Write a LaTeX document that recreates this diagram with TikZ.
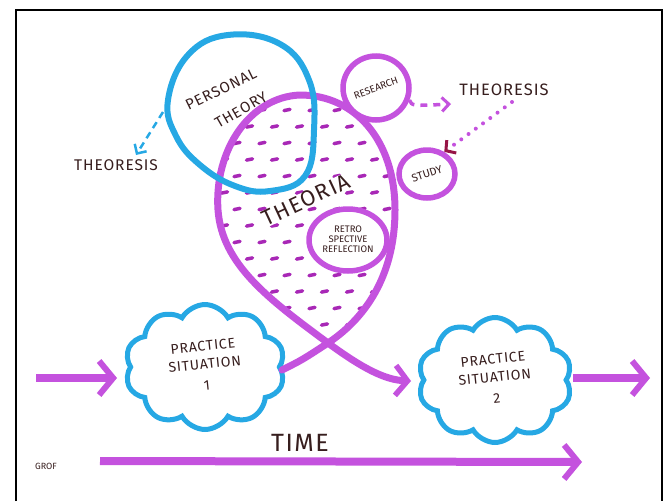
\documentclass[tikz,border=0pt]{standalone}
\usepackage{fontspec}
\setmainfont{Fira Sans}
\usetikzlibrary{arrows.meta,shapes.geometric,shapes.symbols}
\definecolor{mag}{RGB}{196,82,222}
\definecolor{dotc}{RGB}{168,40,182}
\definecolor{blu}{RGB}{38,168,228}
\definecolor{ink}{RGB}{55,30,30}
\definecolor{darkhead}{RGB}{150,20,70}
\newfontfamily\handfont[LetterSpace=6]{Fira Sans}
\newcommand\stacklines[1]{\begin{tabular}{@{}c@{}}#1\end{tabular}}
\begin{document}
\begin{tikzpicture}[x=1pt,y=-1pt,
  magline/.style={draw=mag,line width=7pt,line cap=round},
  blueline/.style={draw=blu,line width=6pt},
  lbl/.style={text=ink,inner sep=1pt},
  bigarrow/.style={draw=mag,line width=8pt,-{Straight Barb[length=14pt,width=34pt,line width=6pt]}},
  bubble/.style={ellipse,draw=mag,line width=5.5pt,fill=white,inner sep=0pt,text=ink},
  cloudbox/.style={cloud,cloud puffs=10,cloud puff arc=120,draw=blu,line width=5pt,fill=white,text=ink,font=\fontsize{14}{17}\selectfont,inner sep=0pt}
]
\useasboundingbox (0,0) rectangle (668,501);
% frame
\draw[black,line width=1.5pt] (16,501) -- (16,10) -- (662,10) -- (662,501);

% dots inside theoria
\begin{scope}
\clip (328,343) .. controls (270,300) and (222,265) .. (218,210) .. controls (214,150) and (250,97) .. (300,95) .. controls (355,95) and (395,140) .. (395,210) .. controls (395,270) and (370,315) .. (328,343);
\foreach \r in {0,...,14} {
  \foreach \c in {0,...,8} {
    \pgfmathsetmacro\xx{212+25*\c+12.5*mod(\r,2)}
    \pgfmathsetmacro\yy{110+16.5*\r}
    \draw[dotc,line width=3.5pt,line cap=round] (\xx-3,\yy+0.6) -- (\xx+3,\yy-0.6);
  }
}
\end{scope}

% theoria outline and tails
\coordinate (X) at (328,343);
\draw[magline] (X) .. controls (270,300) and (222,265) .. (218,210) .. controls (214,150) and (250,97) .. (300,95) .. controls (355,95) and (395,140) .. (395,210) .. controls (395,270) and (370,315) .. (X);

% clouds
\node[cloudbox,minimum width=160pt,minimum height=106pt] (c1) at (205,367) {\rotatebox{6}{\handfont\stacklines{PRACTICE\\[1pt]SITUATION\\[4pt]1}}};
\node[cloudbox,minimum width=154pt,minimum height=106pt] (c2) at (495,380) {\rotatebox{6}{\handfont\stacklines{PRACTICE\\[1pt]SITUATION\\[4pt]2}}};

\coordinate (t1end) at (282,370);
\coordinate (t2end) at (411,381);
\draw[magline] (X) .. controls (302,360) .. (t1end);
\draw[draw=mag,line width=7pt,-{Straight Barb[length=12pt,width=30pt,line width=5.5pt]}] (X) .. controls (362,368) and (385,380) .. (t2end);

% personal theory loop
\draw[blueline] plot[smooth cycle,tension=0.7] coordinates {(228,35) (280,44) (309,80) (314,130) (305,176) (270,191) (235,186) (200,165) (176,136) (168,100) (188,55)};
\node[lbl,rotate=26,font=\handfont\fontsize{15}{18}\selectfont] (pt1) at (221,89) {PERSONAL};
\node[lbl,rotate=30,font=\handfont\fontsize{15}{18}\selectfont] (pt2) at (241,110) {THEORY};

% theoria label and reflection
\node[lbl,rotate=25,fill=white,inner sep=0.5pt,font=\handfont\fontsize{22}{25}\selectfont] (th) at (306,200) {THEORIA};
\node[bubble,minimum width=78pt,minimum height=62pt,font=\fontsize{9.5}{11}\selectfont] (refl) at (348,240) {\stacklines{RETRO\\[-1pt]SPECTIVE\\[-1pt]REFLECTION}};

% research and study
\node[bubble,minimum width=66pt,minimum height=64pt,font=\fontsize{10}{12}\selectfont] (res) at (376,88) {\rotatebox{20}{RESEARCH}};
\node[bubble,minimum width=56pt,minimum height=48pt,font=\fontsize{11}{12}\selectfont] (stu) at (427,174) {\rotatebox{18}{STUDY}};

% theoresis labels
\node[lbl,font=\handfont\fontsize{15.5}{20}\selectfont] (th1) at (116,165) {THEORESIS};
\node[lbl,font=\handfont\fontsize{16.5}{20}\selectfont] (th2) at (504,90) {THEORESIS};

% small arrows
\coordinate (bstart) at (163,112);
\coordinate (bend) at (136,155);
\draw[blu,line width=2.5pt,dash pattern=on 7pt off 5pt,-{Straight Barb[length=7pt,width=14pt,line width=2.5pt]}] (bstart) -- (bend);
\coordinate (resend) at (451,104);
\draw[mag,line width=3.5pt,dash pattern=on 7pt off 6pt,-{Straight Barb[length=7pt,width=14pt,line width=3pt]}] (res.-20) .. controls (412,106) .. (resend);
\coordinate (dstart) at (512,102);
\draw[mag,line width=4pt,line cap=round,dash pattern=on 0pt off 9pt,-{Straight Barb[length=7pt,width=16pt,line width=3pt,color=darkhead]}] (dstart) -- (stu.52);

% main flow arrows
\coordinate (la) at (36,378);
\coordinate (lb) at (117,378);
\coordinate (ra) at (650,378);
\coordinate (rs) at (573,378);
\draw[bigarrow] (la) -- (lb);
\draw[bigarrow] (rs) -- (ra);

% time
\coordinate (tl) at (100,461);
\coordinate (tr) at (582,462);
\draw[bigarrow] (tl) -- (tr);
\node[lbl,font=\handfont\fontsize{25}{28}\selectfont] (time) at (300,443) {TIME};
\node[lbl,font=\fontsize{9}{10}\selectfont] (grof) at (46,466) {GROF};
\end{tikzpicture}
\end{document}
